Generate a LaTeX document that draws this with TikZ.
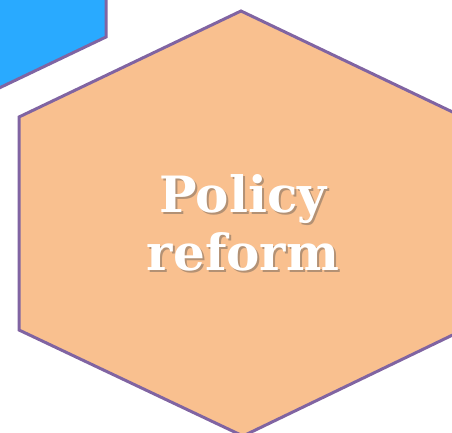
\documentclass[tikz,border=0pt]{standalone}
\usepackage{fontspec}
\newfontfamily\hexfont{DejaVu Serif}
\definecolor{hexorange}{RGB}{249,192,143}
\definecolor{hexblue}{RGB}{41,170,255}
\definecolor{hexline}{RGB}{128,100,162}
\tikzset{
  hexshape/.style={draw=hexline, line width=3pt, line join=miter},
  hexlabel/.style={font=\hexfont\bfseries\fontsize{50}{58}\selectfont, align=center, anchor=base, inner sep=0pt}
}
\begin{document}
\begin{tikzpicture}[x=1pt,y=-1pt]
\useasboundingbox (0,0) rectangle (452,433);
% blue hexagon (mostly off-canvas)
\fill[hexblue] (-116,-281) -- (106,-175) -- (106,37) -- (-116,143) -- (-338,37) -- (-338,-175) -- cycle;
\draw[hexshape] (-116,-281) -- (106,-175) -- (106,37) -- (-116,143) -- (-338,37) -- (-338,-175) -- cycle;
% orange hexagon
\fill[hexorange] (241,11) -- (463,117) -- (463,330) -- (243,436) -- (19,330) -- (19,117) -- cycle;
\draw[hexshape] (241,11) -- (463,117) -- (463,330) -- (243,436) -- (19,330) -- (19,117) -- cycle;
% text with shadow
\node[hexlabel, text=black!70, opacity=0.4] (shadow) at (245,272) {Policy\\reform};
\node[hexlabel, text=white] (label) at (243,270) {Policy\\reform};
\end{tikzpicture}
\end{document}
